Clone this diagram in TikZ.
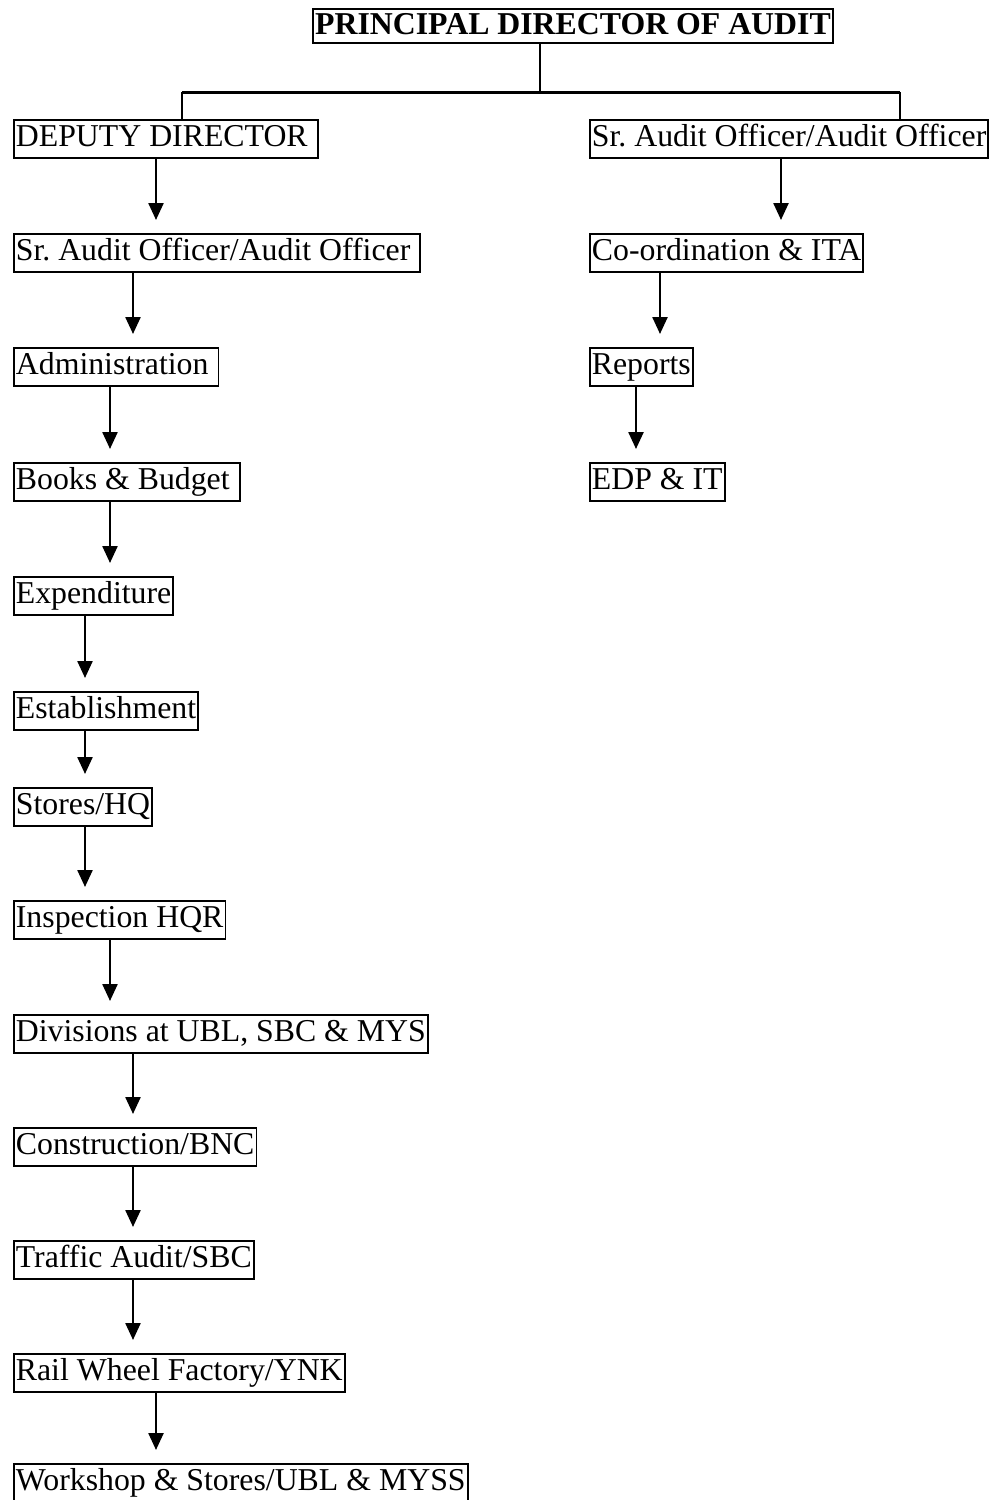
\documentclass[tikz,border=0pt]{standalone}
\usepackage{fontspec}
\setmainfont{Liberation Serif}
\frenchspacing
\usetikzlibrary{arrows.meta,positioning}

\begin{document}
\begin{tikzpicture}[x=1pt,y=-1pt,
	box/.style={draw,line width=1.8pt,inner xsep=2pt,inner ysep=3pt,text height=24pt,text depth=8pt,anchor=north west,font=\fontsize{31.8}{38}\selectfont},
	arr/.style={-{Triangle[width=15pt,length=17pt]},line width=2.4pt,shorten >=13pt},
	link/.style={line width=2.2pt}]
	\useasboundingbox (0,0) rectangle (995,1500);
	\node[box,anchor=center,text height=23pt,text depth=7pt,inner ysep=2pt,font=\bfseries\fontsize{31.8}{38}\selectfont] (pda) at (573,26) {PRINCIPAL DIRECTOR OF AUDIT};
	% left column
	\node[box] (dd) at (13,119) {DEPUTY DIRECTOR\kern8pt};
	\node[box] (sao) at (13,233) {Sr. Audit Officer/Audit Officer\kern8pt};
	\node[box] (adm) at (13,347) {Administration\kern8pt};
	\node[box] (bkb) at (13,462) {Books \& Budget\kern8pt};
	\node[box] (exp) at (13,576) {Expenditure};
	\node[box] (est) at (13,691) {Establishment};
	\node[box] (sto) at (13,787) {Stores/HQ};
	\node[box] (insp) at (13,900) {Inspection HQR};
	\node[box] (div) at (13,1014) {Divisions at UBL, SBC \& MYS};
	\node[box] (con) at (13,1127) {Construction/BNC};
	\node[box] (tra) at (13,1240) {Traffic Audit/SBC};
	\node[box] (rwf) at (13,1353) {Rail Wheel Factory/YNK};
	\node[box] (wks) at (13,1463) {Workshop \& Stores/UBL \& MYSS};
	% right column
	\node[box] (saor) at (589,119) {Sr. Audit Officer/Audit Officer};
	\node[box] (coo) at (589,233) {Co-ordination \& ITA};
	\node[box] (rep) at (589,347) {Reports};
	\node[box] (edp) at (589,462) {EDP \& IT};
	% tree
	\coordinate (lt) at (182,92);
	\coordinate (rt) at (900,92);
	\draw[line width=3pt] (lt) -- (rt);
	\draw[link] ([xshift=-33pt]pda.south) -- ([xshift=-33pt]pda.south |- lt);
	\draw[link] (lt) -- (lt |- dd.north);
	\draw[link] (rt) -- (rt |- saor.north);
	% arrows
	\draw[arr] ([xshift=143pt]dd.south west) -- ([xshift=143pt]sao.north west);
	\draw[arr] ([xshift=120pt]sao.south west) -- ([xshift=120pt]adm.north west);
	\draw[arr] ([xshift=97pt]adm.south west) -- ([xshift=97pt]bkb.north west);
	\draw[arr] ([xshift=97pt]bkb.south west) -- ([xshift=97pt]exp.north west);
	\draw[arr] ([xshift=72pt]exp.south west) -- ([xshift=72pt]est.north west);
	\draw[arr] ([xshift=72pt]est.south west) -- ([xshift=72pt]sto.north west);
	\draw[arr] ([xshift=72pt]sto.south west) -- ([xshift=72pt]insp.north west);
	\draw[arr] ([xshift=97pt]insp.south west) -- ([xshift=97pt]div.north west);
	\draw[arr] ([xshift=120pt]div.south west) -- ([xshift=120pt]con.north west);
	\draw[arr] ([xshift=120pt]con.south west) -- ([xshift=120pt]tra.north west);
	\draw[arr] ([xshift=120pt]tra.south west) -- ([xshift=120pt]rwf.north west);
	\draw[arr] ([xshift=143pt]rwf.south west) -- ([xshift=143pt]wks.north west);
	\draw[arr] ([xshift=192pt]saor.south west) -- ([xshift=192pt]coo.north west);
	\draw[arr] ([xshift=71pt]coo.south west) -- ([xshift=71pt]rep.north west);
	\draw[arr] ([xshift=47pt]rep.south west) -- ([xshift=47pt]edp.north west);
\end{tikzpicture}
\end{document}
